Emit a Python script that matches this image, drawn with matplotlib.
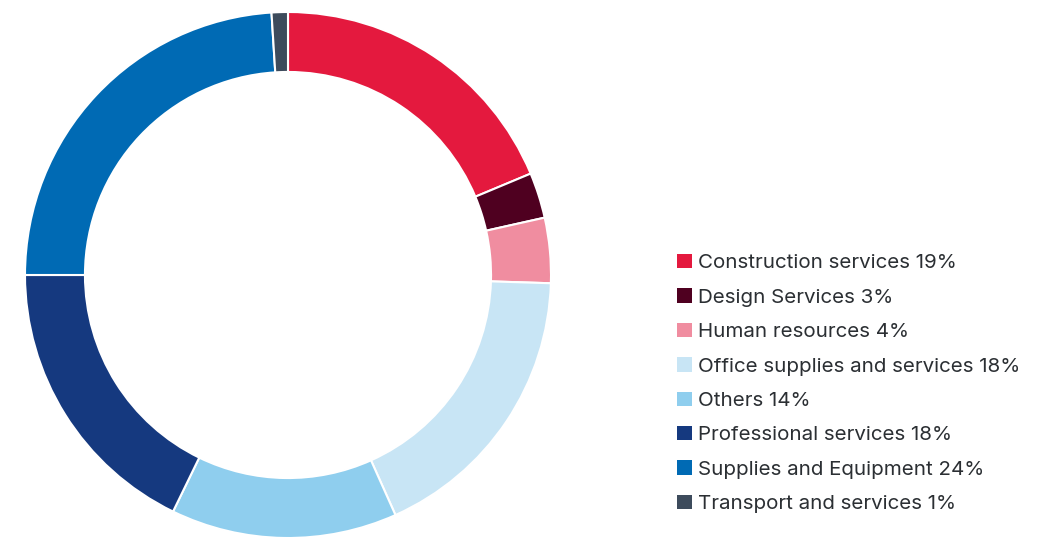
import matplotlib.pyplot as plt
from matplotlib.patches import Patch

categories = ["Construction services", "Design Services", "Human resources",
              "Office supplies and services", "Others", "Professional services",
              "Supplies and Equipment", "Transport and services"]
shares = [18.7, 2.8, 4.0, 17.8, 13.9, 17.8, 24.0, 1.0]
labels_pct = ["19%", "3%", "4%", "18%", "14%", "18%", "24%", "1%"]
colors = ["#E4193E", "#4F0020", "#F08DA0", "#C8E5F5",
          "#8FCEEE", "#15397F", "#006AB4", "#3D4B5C"]

plt.rcParams["font.family"] = ["Inter", "DejaVu Sans"]

fig = plt.figure(figsize=(10.45, 5.38), dpi=100)
ax = fig.add_axes([25 / 1045, 0, 526 / 1045, 526 / 538])

ax.pie(shares, colors=colors, startangle=90, counterclock=False,
       wedgeprops=dict(width=0.228, edgecolor="white", linewidth=1.5))
ax.set_xlim(-1, 1)
ax.set_ylim(-1, 1)
ax.set_aspect("equal")
ax.axis("off")

handles = [Patch(facecolor=c, edgecolor="none") for c in colors]
texts = [f"{c} {p}" for c, p in zip(categories, labels_pct)]
fig.legend(handles, texts, loc="center left", bbox_to_anchor=(0.648, 0.287),
           frameon=False, fontsize=14.8, handlelength=0.7, handleheight=0.7,
           handletextpad=0.3, labelspacing=0.78, borderpad=0, borderaxespad=0,
           labelcolor="#2b2f33")

plt.savefig("out.png", dpi=100)
